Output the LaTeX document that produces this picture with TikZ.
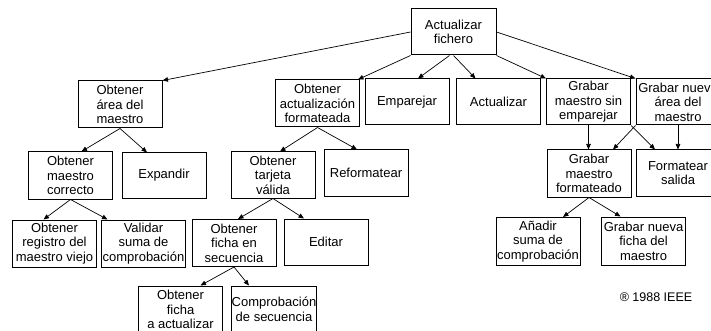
\documentclass[tikz,border=0pt]{standalone}
\usepackage{fontspec}
\setmainfont{Liberation Sans}
\usetikzlibrary{arrows.meta,calc}
\begin{document}
\begin{tikzpicture}[x=1pt,y=-1pt,
  box/.style={draw, line width=1pt, minimum width=84pt, minimum height=46pt, inner sep=0.5pt, align=center, font=\fontsize{13}{14.5}\selectfont},
  arr/.style={line width=0.7pt, -{Triangle[length=5.5pt,width=4.5pt]}}]
\useasboundingbox (0,0) rectangle (711,331);
\clip (0,0) rectangle (711,331);
\fill[white] (0,0) rectangle (711,331);
% level 0
\node[box, minimum width=85pt] (af) at (453.5,32) {Actualizar\\fichero};
% level 1
\node[box, minimum height=47pt] (oam) at (120,104.5) {Obtener\\área del\\maestro};
\node[box, minimum height=47pt] (oaf) at (317.5,103.5) {Obtener\\actualización\\formateada};
\node[box] (emp) at (407,102) {Emparejar};
\node[box] (act) at (498.5,102) {Actualizar};
\node[box] (gse) at (588.5,102) {Grabar\\maestro sin\\emparejar};
\node[box] (gna) at (678,102) {Grabar nueva\\área del\\maestro};
% level 2
\node[box, minimum height=47pt] (omc) at (70.5,175.5) {Obtener\\maestro\\correcto};
\node[box, minimum height=45pt] (exp) at (164,175.5) {Expandir};
\node[box] (otv) at (273,175) {Obtener\\tarjeta\\válida};
\node[box] (ref) at (366,173) {Reformatear};
\node[box, minimum height=47pt] (gmf) at (589,173.5) {Grabar\\maestro\\formateado};
\node[box] (fsal) at (678,173) {Formatear\\salida};
% level 3
\node[box, minimum height=47pt] (orv) at (54.5,243.5) {Obtener\\registro del\\maestro viejo};
\node[box, minimum height=47pt] (vsc) at (143.5,243.5) {Validar\\suma de\\comprobación};
\node[box, minimum height=47pt] (ofs) at (234,243) {Obtener\\ficha en\\secuencia};
\node[box] (edi) at (326,242) {Editar};
\node[box, minimum height=48pt] (asc) at (538,241.5) {Añadir\\suma de\\comprobación};
\node[box, minimum height=48pt] (gnf) at (643.5,241) {Grabar nueva\\ficha del\\maestro};
% level 4
\node[box, minimum height=47pt] (ofa) at (180.5,309.5) {Obtener\\ficha\\a actualizar};
\node[box, minimum height=47pt] (cds) at (274,309.5) {Comprobación\\de secuencia};
% copyright
\node[font=\fontsize{12.5}{14.5}\selectfont, inner sep=0pt] (ieee) at (656,297) {® 1988 IEEE};
% connectors
\draw[arr] (af.west) -- (oam.north east);
\draw[arr] (af.south west) -- ($(oaf.north east)+(-2,0)$);
\draw[arr] ($(af.south)+(-4,0)$) -- ($(emp.north)+(11,0)$);
\draw[arr] (af.south) -- ($(act.north)+(-23,0)$);
\draw[arr] (af.south east) -- (gse.north west);
\draw[arr] (af.east) -- (gna.north west);
\draw[arr] (oam.south) -- ($(omc.north)+(11,0)$);
\draw[arr] (oam.south) -- ($(exp.north)+(-17,0)$);
\draw[arr] (oaf.south) -- ($(otv.north)+(7,0)$);
\draw[arr] (oaf.south) -- ($(ref.north)+(-9,0)$);
\draw[arr] (omc.south) -- ($(orv.north)+(-11,0)$);
\draw[arr] (omc.south) -- ($(vsc.north)+(-36,0)$);
\draw[arr] (otv.south) -- ($(ofs.north)+(4,0)$);
\draw[arr] (otv.south) -- ($(edi.north)+(-22,0)$);
\draw[arr] (ofs.south) -- ($(ofa.north)+(20,0)$);
\draw[arr] (ofs.south) -- ($(cds.north)+(-25,0)$);
\draw[arr] (gse.south) -- (gse.south |- gmf.north);
\draw[arr] (gse.south east) -- ($(fsal.north)+(-23,0)$);
\draw[arr] (gna.south west) -- ($(gmf.north)+(24,0)$);
\draw[arr] (gna.south) -- (gna.south |- fsal.north);
\draw[arr] (gmf.south) -- ($(asc.north)+(25,0)$);
\draw[arr] (gmf.south) -- ($(gnf.north)+(-23,0)$);
\end{tikzpicture}
\end{document}
